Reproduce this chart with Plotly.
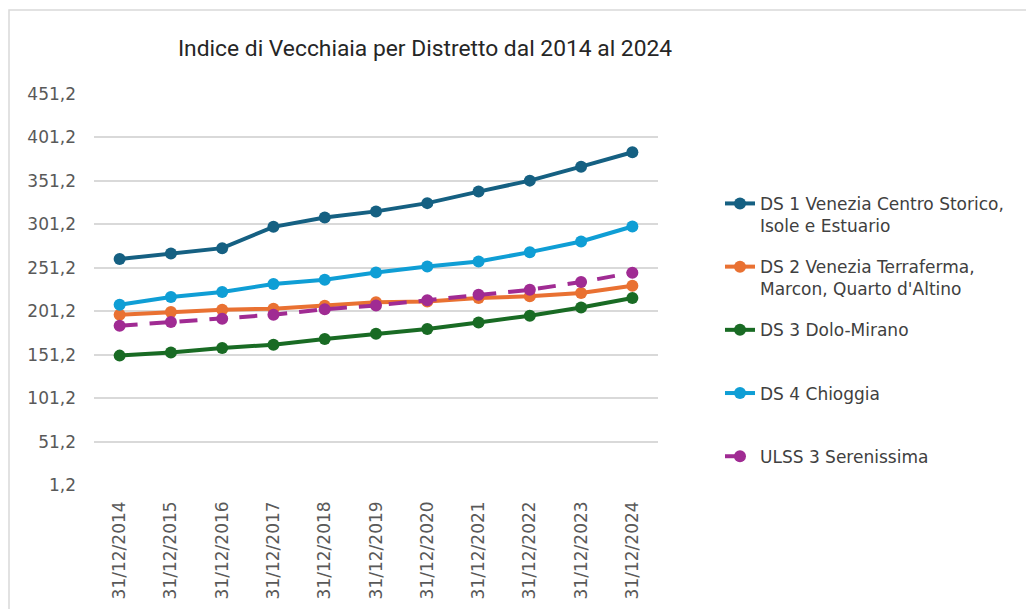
import plotly.graph_objects as go

# ---- data ----
categories = ["31/12/2014", "31/12/2015", "31/12/2016", "31/12/2017", "31/12/2018",
              "31/12/2019", "31/12/2020", "31/12/2021", "31/12/2022", "31/12/2023", "31/12/2024"]

ds1_venezia_cs = [261.2, 267.6, 273.8, 298.3, 309.0, 316.1, 325.6, 338.9, 351.5, 367.6, 384.2]
ds2_terraferma = [197.2, 200.3, 202.9, 204.1, 207.5, 211.5, 212.5, 216.4, 218.4, 222.1, 230.5]
ds3_dolo_mirano = [150.1, 153.8, 158.9, 162.7, 169.2, 175.3, 180.7, 188.3, 196.0, 205.5, 216.4]
ds4_chioggia = [208.7, 217.5, 223.3, 232.5, 237.4, 245.8, 252.7, 258.4, 269.2, 281.4, 298.7]
ulss3_serenissima = [184.5, 188.8, 192.6, 197.2, 203.5, 207.9, 213.8, 220.2, 225.9, 234.8, 245.5]

series_names = [
    "DS 1 Venezia Centro Storico,<br>Isole e Estuario",
    "DS 2 Venezia Terraferma,<br>Marcon, Quarto d'Altino",
    "DS 3 Dolo-Mirano<br> ",
    "DS 4 Chioggia<br> ",
    "ULSS 3 Serenissima<br> ",
]

y_tick_values = [1.2, 51.2, 101.2, 151.2, 201.2, 251.2, 301.2, 351.2, 401.2, 451.2]
y_tick_labels = ["1,2", "51,2", "101,2", "151,2", "201,2", "251,2", "301,2", "351,2", "401,2", "451,2"]

title_text = "Indice di Vecchiaia per Distretto dal 2014 al 2024"

# ---- styling ----
colors = ["#156082", "#E97132", "#196B24", "#0F9ED5", "#A02B93"]
dashes = ["solid", "solid", "solid", "solid", "18px,12px"]
all_series = [ds1_venezia_cs, ds2_terraferma, ds3_dolo_mirano, ds4_chioggia, ulss3_serenissima]

fig = go.Figure()
for i, (name, vals) in enumerate(zip(series_names, all_series)):
    fig.add_trace(go.Scatter(
        x=categories, y=vals, name=name, mode="lines+markers",
        legendgroup=f"g{i}",
        line=dict(color=colors[i], width=4, dash=dashes[i]),
        marker=dict(color=colors[i], size=12),
    ))

W, H = 1026, 609
L, R, T, B = 94, 1026 - 658, 94, 609 - 485.5
pw = W - L - R
ph = H - T - B

fig.update_layout(
    width=W, height=H,
    margin=dict(l=L, r=R, t=T, b=B, autoexpand=False),
    paper_bgcolor="white", plot_bgcolor="white",
    title=dict(text=title_text, x=425 / W, xanchor="center", xref="container",
               y=1 - 48 / H, yanchor="middle", yref="container",
               font=dict(family="Roboto, Arial", size=22.8, color="#262626")),
    font=dict(family="DejaVu Sans", color="#595959"),
    showlegend=True,
    legend=dict(
        x=(720 - L) / pw, xanchor="left", y=(485.5 - 186) / ph, yanchor="top",
        font=dict(family="DejaVu Sans", size=17, color="#404040"),
        valign="top", tracegroupgap=16, bgcolor="rgba(0,0,0,0)",
        itemwidth=30,
    ),
    xaxis=dict(
        type="category", range=[-0.5, 10.5], showgrid=False, zeroline=False,
        showline=False, tickangle=-90, ticks="", ticklabelstandoff=12,
        tickfont=dict(family="DejaVu Sans", size=17, color="#595959"),
    ),
    yaxis=dict(
        range=[1.2, 451.2], tickvals=y_tick_values, ticktext=y_tick_labels,
        showgrid=True, gridcolor="#d9d9d9", gridwidth=1.5, zeroline=False,
        showline=False, ticks="", ticklabelstandoff=17,
        tickfont=dict(family="DejaVu Sans", size=17, color="#595959"),
    ),
    shapes=[dict(
        type="rect", xref="paper", yref="paper",
        x0=(9 - L) / pw, x1=(1040 - L) / pw,
        y0=(485.5 - 620) / ph, y1=(485.5 - 10) / ph,
        line=dict(color="#d9d9d9", width=1.5), fillcolor="rgba(0,0,0,0)", layer="below",
    )],
)

fig.write_html(
    "out.html",
    config={"displayModeBar": False},
    post_script="document.body.style.margin='0';document.body.style.overflow='hidden';",
)
